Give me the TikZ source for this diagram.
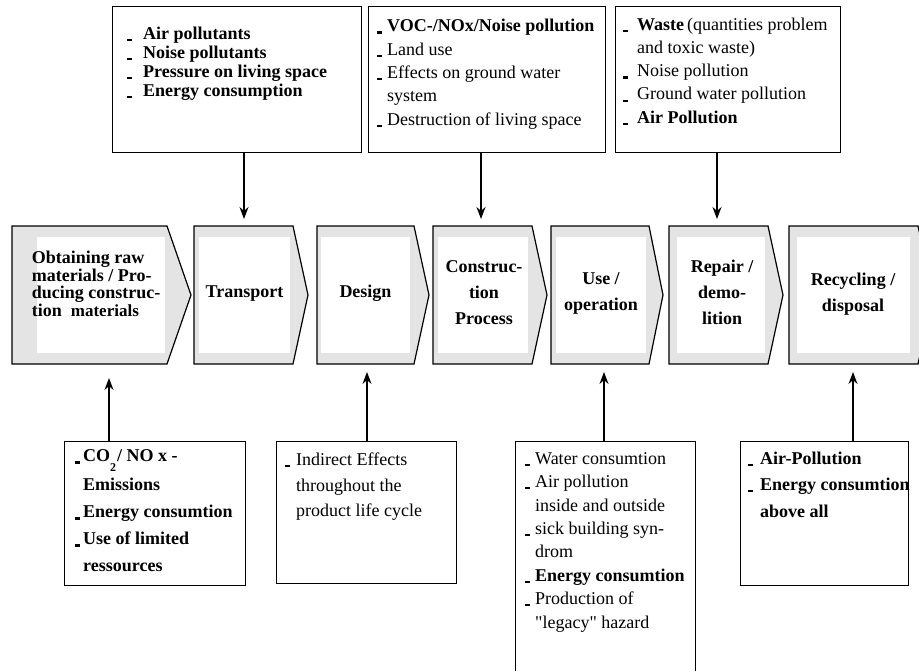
\documentclass[tikz,border=0pt]{standalone}
\usepackage{fontspec}
\setmainfont{Liberation Serif}[Ligatures=TeXOff]
\usetikzlibrary{arrows.meta}
\definecolor{chevgray}{RGB}{228,228,228}
\newcommand\bul[1][10pt]{\makebox[#1][l]{\rule[-1.8pt]{4.5pt}{2.2pt}}}
\newcommand\ind[1][10pt]{\hspace*{#1}}
\newcommand\chevshape[5]{%
  \fill[chevgray] (#1,226) -- (#2,226) -- (#3,295) -- (#2,364) -- (#1,364) -- cycle;
  \fill[white] (#4,237) rectangle (#5,353);
  \draw[line width=1.2pt, line join=miter] (#1,226) -- (#2,226) -- (#3,295) -- (#2,364) -- (#1,364) -- cycle;}
\begin{document}
\begin{tikzpicture}[x=1pt,y=-1pt,
  box/.style={draw, line width=1.2pt, fill=white, inner sep=0, anchor=north west},
  arr/.style={-{Stealth[length=12pt,width=9pt]}, line width=1.4pt},
  ctext/.style={font=\fontsize{18}{26}\selectfont\bfseries, align=center, inner sep=0, anchor=base},
  ltext/.style={inner sep=0, align=left, anchor=base west},
]
\useasboundingbox (0,0) rectangle (919,670);
\clip (0,0) rectangle (919,670);

% chevrons
\chevshape{12}{167}{191}{37}{165}
\chevshape{194}{293}{308}{199}{290}
\chevshape{317}{414}{429}{321}{410}
\chevshape{433}{532}{547}{438}{528}
\chevshape{551}{649}{663}{556}{646}
\chevshape{669}{768}{783}{677}{765}
\chevshape{789}{918}{933}{797}{910}

% text nodes anchored at the baseline of their last line
\node[ltext, font=\fontsize{18}{17.8}\selectfont\bfseries] (c1) at (31.7,316.7)
  {Obtaining raw\\materials / Pro-\\ducing construc-\\tion\hspace{9pt}{\fontsize{17}{17}\selectfont materials}};
\node[ctext] (c2) at (244.5,297.3) {Transport};
\node[ctext] (c3) at (365.5,297.3) {Design};
\node[ctext] (c4) at (484,324) {Construc-\\tion\\Process};
\node[ctext] (c5) at (601,310.7) {Use /\\operation};
\node[ctext] (c6) at (722,324) {Repair /\\demo-\\lition};
\node[ctext] (c7) at (853,311.2) {Recycling /\\disposal};

% top boxes
\node[box, minimum width=249pt, minimum height=146pt] (t1) at (112,6) {};
\node[box, minimum width=237pt, minimum height=146pt] (t2) at (368,6) {};
\node[box, minimum width=225pt, minimum height=146pt] (t3) at (615,6) {};

\node[ltext, font=\fontsize{18}{18.9}\selectfont\bfseries] (t1x) at (127,96)
  {\bul[16pt]Air pollutants\\\bul[16pt]Noise pollutants\\\bul[16pt]Pressure on living space\\\bul[16pt]Energy consumption};
\node[ltext, font=\fontsize{18}{23.3}\selectfont] (t2x) at (377,125)
  {\bul\textbf{VOC-/NOx/Noise pollution}\\\bul Land use\\\bul Effects on ground water\\\ind system\\\bul Destruction of living space};
\node[ltext, font=\fontsize{18}{23.1}\selectfont] (t3x) at (623,123)
  {\bul[14pt]\textbf{Waste}\,(quantities problem\\\ind[14pt]and toxic waste)\\\bul[14pt]Noise pollution\\\bul[14pt]Ground water pollution\\\bul[14pt]\textbf{Air Pollution}};

% bottom boxes
\node[box, minimum width=181pt, minimum height=144pt] (bA) at (64,441) {};
\node[box, minimum width=180pt, minimum height=142pt] (bB) at (276,441) {};
\node[box, minimum width=180pt, minimum height=240pt] (bC) at (515,441) {};
\node[box, minimum width=168pt, minimum height=144pt] (bD) at (740,441) {};

\node[ltext, font=\fontsize{18}{27}\selectfont\bfseries] (bAx) at (75,571.7)
  {\bul[8pt]CO\raisebox{-10pt}[0pt][0pt]{\fontsize{12}{12}\selectfont 2}\hspace{1pt}/ NO x -\\[2pt]\ind[8pt]Emissions\\\bul[8pt]Energy consumtion\\\bul[8pt]Use of limited\\\ind[8pt]ressources};
\node[ltext, font=\fontsize{18}{25.7}\selectfont] (bBx) at (285,516.7)
  {\bul[11pt]Indirect Effects\\\ind[11pt]throughout the\\\ind[11pt]product life cycle};
\node[ltext, font=\fontsize{18}{23.4}\selectfont] (bCx) at (525,628)
  {\bul Water consumtion\\\bul Air pollution\\\ind inside and outside\\\bul sick building syn-\\\ind drom\\\bul\textbf{Energy consumtion}\\\bul Production of\\\ind "legacy" hazard};
\node[ltext, font=\fontsize{18}{26.5}\selectfont\bfseries] (bDx) at (748,517)
  {\bul[12pt]Air-Pollution\\\bul[12pt]Energy consumtion\\\ind[12pt]above all};

% arrows
\coordinate (a1) at (244,219);
\coordinate (a2) at (481,219);
\coordinate (a3) at (717,219);
\coordinate (b1) at (109,378);
\coordinate (b2) at (367,372);
\coordinate (b3) at (604,372);
\coordinate (b4) at (853,372);
\draw[arr] (t1.south -| a1) -- (a1);
\draw[arr] (t2.south -| a2) -- (a2);
\draw[arr] (t3.south -| a3) -- (a3);
\draw[arr] (bA.north -| b1) -- (b1);
\draw[arr] (bB.north -| b2) -- (b2);
\draw[arr] (bC.north -| b3) -- (b3);
\draw[arr] (bD.north -| b4) -- (b4);
\end{tikzpicture}
\end{document}
